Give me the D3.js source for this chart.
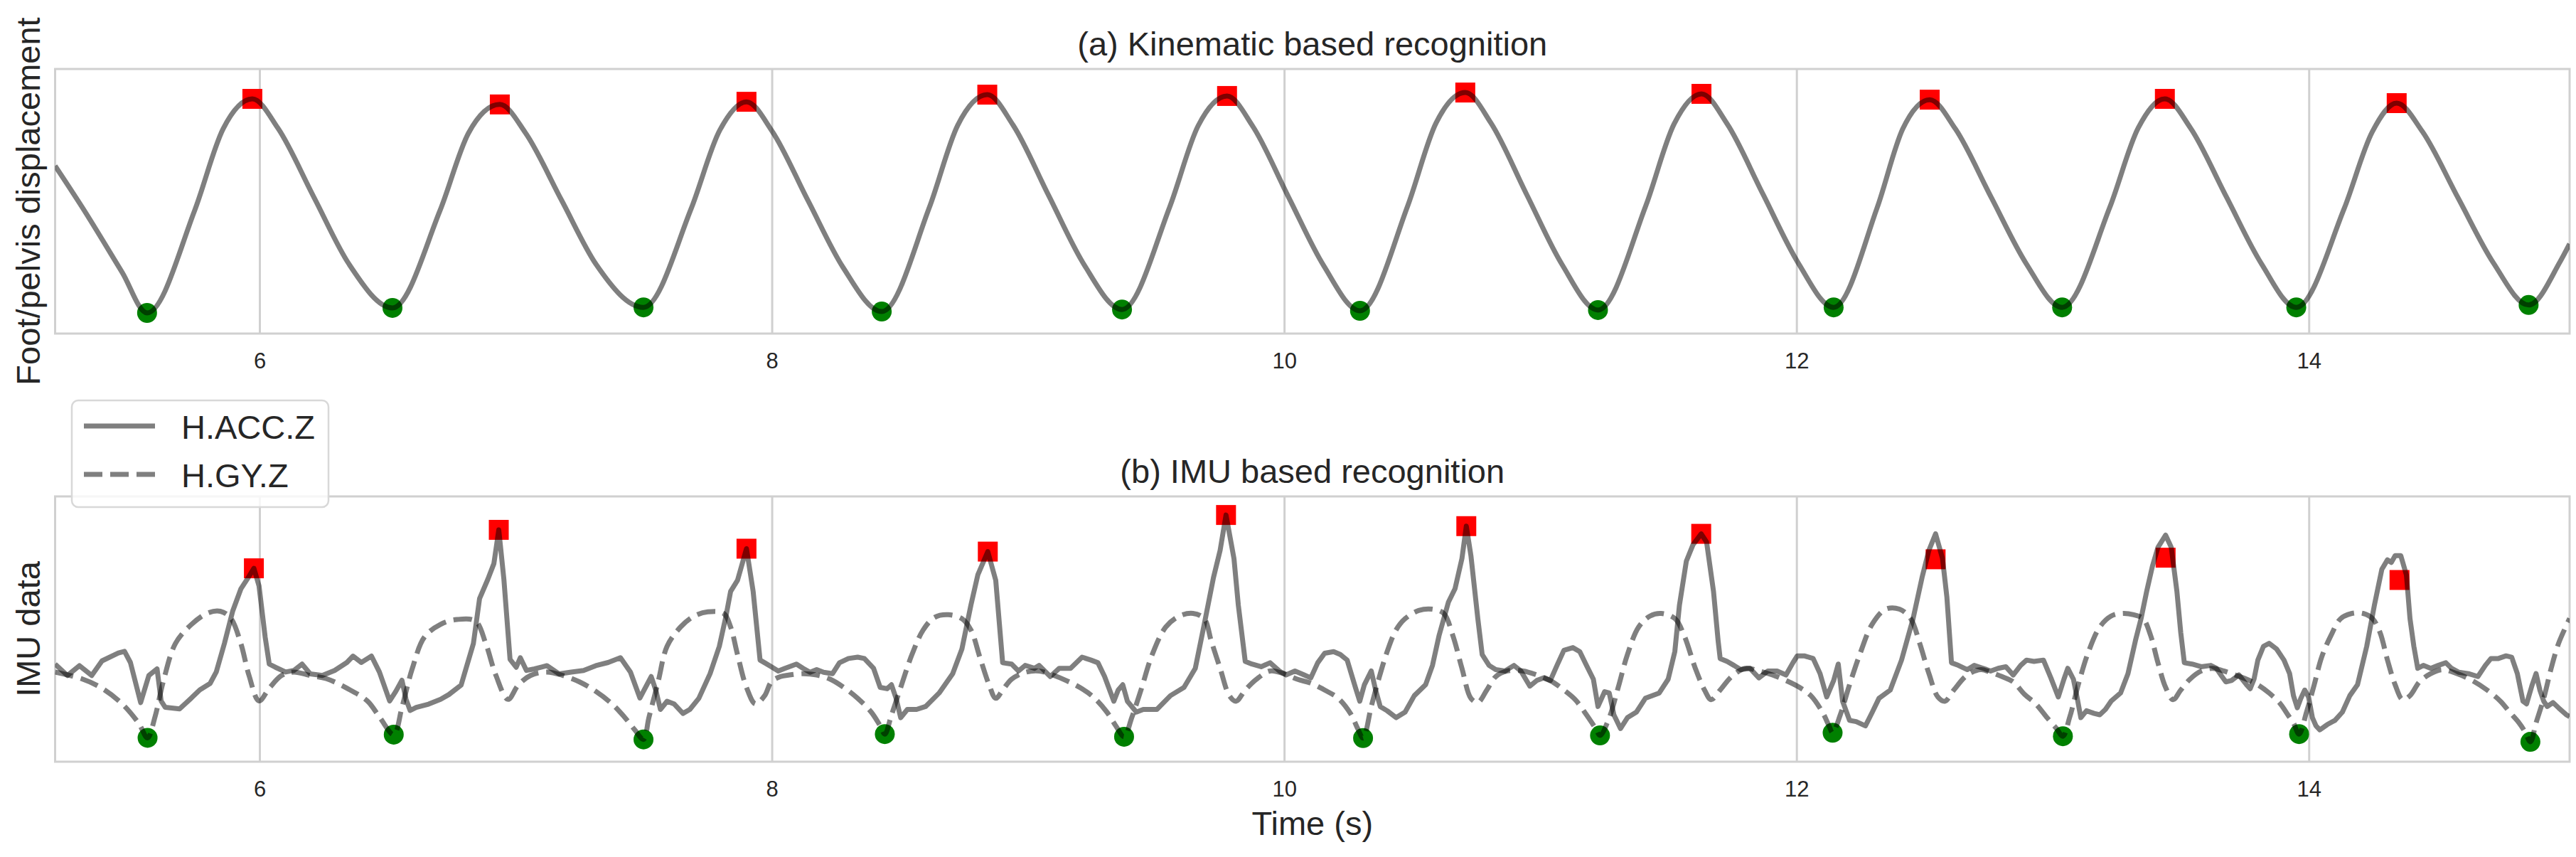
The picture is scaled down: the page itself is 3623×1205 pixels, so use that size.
<!DOCTYPE html>
<html>
<head>
<meta charset="utf-8">
<script src="https://cdn.jsdelivr.net/npm/d3@7"></script>
<style>
  body { margin: 0; background: #fff; }
  text { font-family: "Liberation Sans", Arial, sans-serif; fill: #262626; }
</style>
</head>
<body>
<div id="chart"></div>
<script>
// ---- data (time in s, values normalised 0..1 of each panel) ----
const xTicks = [6, 8, 10, 12, 14]
const titles = ["(a) Kinematic based recognition", "(b) IMU based recognition"]
const yLabels = ["Foot/pelvis displacement", "IMU data"]
const legendNames = ["H.ACC.Z", "H.GY.Z"]

const kinematic = [
  [5.202,0.634],[5.306,0.48],[5.464,0.231],[5.561,0.078],
  [5.747,0.466],[5.858,0.774],[5.972,0.887],
  [6.072,0.776],[6.212,0.516],[6.349,0.263],[6.519,0.097],
  [6.705,0.466],[6.816,0.758],[6.938,0.866],
  [7.038,0.759],[7.178,0.506],[7.315,0.260],[7.499,0.099],
  [7.685,0.472],[7.796,0.767],[7.901,0.876],
  [8.001,0.765],[8.141,0.503],[8.278,0.250],[8.429,0.083],
  [8.615,0.477],[8.726,0.788],[8.841,0.903],
  [8.941,0.789],[9.081,0.521],[9.218,0.262],[9.367,0.091],
  [9.553,0.478],[9.664,0.785],[9.777,0.898],
  [9.877,0.784],[10.017,0.516],[10.154,0.257],[10.296,0.086],
  [10.482,0.482],[10.593,0.796],[10.707,0.911],
  [10.807,0.796],[10.947,0.525],[11.084,0.262],[11.225,0.089],
  [11.411,0.481],[11.522,0.792],[11.629,0.906],
  [11.729,0.793],[11.869,0.527],[12.006,0.268],[12.145,0.099],
  [12.315,0.476],[12.415,0.774],[12.520,0.884],
  [12.620,0.774],[12.760,0.515],[12.897,0.264],[13.037,0.099],
  [13.223,0.477],[13.334,0.777],[13.438,0.887],
  [13.538,0.777],[13.678,0.517],[13.815,0.264],[13.951,0.099],
  [14.137,0.470],[14.248,0.763],[14.343,0.871],
  [14.443,0.764],[14.583,0.512],[14.720,0.268],[14.858,0.108],
  [14.980,0.270],[15.018,0.339]
]
const kinPeaks = [[5.972,0.887],[6.938,0.866],[7.901,0.876],[8.841,0.903],[9.777,0.898],
  [10.707,0.911],[11.629,0.906],[12.520,0.884],[13.438,0.887],[14.343,0.871]]
const kinFeet = [[5.561,0.078],[6.519,0.097],[7.499,0.099],[8.429,0.083],[9.367,0.091],[10.296,0.086],
  [11.225,0.089],[12.145,0.099],[13.037,0.099],[13.951,0.099],[14.858,0.108]]

const accZ = [
  [5.202,0.368],[5.250,0.325],[5.297,0.362],[5.345,0.325],[5.385,0.380],[5.449,0.410],[5.473,0.416],
  [5.496,0.374],[5.536,0.223],[5.568,0.325],[5.600,0.350],[5.616,0.229],[5.632,0.205],[5.688,0.199],
  [5.735,0.241],[5.767,0.271],[5.807,0.295],[5.831,0.338],[5.863,0.446],[5.895,0.567],[5.927,0.651],
  [5.959,0.699],[5.978,0.729],[5.998,0.663],[6.022,0.470],[6.038,0.368],[6.062,0.356],[6.102,0.338],
  [6.134,0.344],[6.166,0.368],[6.198,0.331],[6.245,0.325],[6.293,0.344],[6.341,0.374],[6.365,0.398],
  [6.397,0.374],[6.437,0.398],[6.468,0.338],[6.508,0.229],[6.532,0.265],[6.556,0.307],[6.572,0.235],
  [6.588,0.193],[6.612,0.205],[6.660,0.217],[6.707,0.235],[6.739,0.253],[6.787,0.289],[6.835,0.446],
  [6.859,0.615],[6.891,0.687],[6.915,0.747],[6.934,0.874],[6.954,0.687],[6.978,0.386],[7.002,0.356],
  [7.018,0.392],[7.042,0.344],[7.074,0.350],[7.122,0.362],[7.170,0.331],[7.217,0.338],[7.265,0.344],
  [7.313,0.362],[7.361,0.374],[7.409,0.392],[7.448,0.338],[7.485,0.240],[7.529,0.321],[7.547,0.270],
  [7.565,0.197],[7.591,0.228],[7.618,0.218],[7.653,0.182],[7.680,0.197],[7.715,0.239],[7.759,0.332],
  [7.795,0.435],[7.821,0.549],[7.839,0.642],[7.866,0.684],[7.901,0.803],[7.927,0.642],[7.954,0.383],
  [7.972,0.373],[7.998,0.358],[8.025,0.342],[8.051,0.352],[8.096,0.368],[8.122,0.352],[8.149,0.337],
  [8.175,0.347],[8.202,0.337],[8.237,0.332],[8.264,0.373],[8.299,0.389],[8.335,0.394],[8.361,0.389],
  [8.397,0.352],[8.423,0.280],[8.450,0.275],[8.467,0.290],[8.485,0.239],[8.503,0.166],[8.529,0.197],
  [8.565,0.197],[8.600,0.208],[8.653,0.259],[8.706,0.332],[8.742,0.425],[8.777,0.590],[8.804,0.704],
  [8.843,0.792],[8.874,0.684],[8.901,0.373],[8.936,0.368],[8.963,0.342],[8.989,0.363],[9.025,0.352],
  [9.043,0.363],[9.087,0.321],[9.122,0.352],[9.166,0.352],[9.211,0.394],[9.246,0.383],[9.273,0.373],
  [9.299,0.321],[9.335,0.228],[9.352,0.270],[9.370,0.290],[9.388,0.228],[9.423,0.187],[9.450,0.197],
  [9.503,0.197],[9.556,0.249],[9.609,0.280],[9.653,0.352],[9.688,0.518],[9.724,0.694],[9.750,0.797],
  [9.773,0.930],[9.804,0.766],[9.821,0.590],[9.848,0.378],[9.874,0.368],[9.910,0.358],[9.945,0.373],
  [9.981,0.342],[10.007,0.327],[10.042,0.342],[10.078,0.327],[10.104,0.316],[10.131,0.373],[10.158,0.409],
  [10.193,0.415],[10.219,0.404],[10.246,0.383],[10.278,0.280],[10.295,0.228],[10.313,0.290],[10.340,0.342],
  [10.357,0.270],[10.375,0.208],[10.402,0.192],[10.437,0.166],[10.472,0.187],[10.508,0.249],[10.552,0.290],
  [10.579,0.363],[10.605,0.477],[10.641,0.601],[10.667,0.652],[10.694,0.766],[10.711,0.888],[10.729,0.777],
  [10.756,0.539],[10.773,0.404],[10.800,0.363],[10.826,0.347],[10.862,0.342],[10.897,0.363],[10.924,0.342],
  [10.959,0.285],[10.986,0.306],[11.012,0.316],[11.039,0.306],[11.065,0.363],[11.092,0.420],[11.127,0.430],
  [11.154,0.415],[11.180,0.363],[11.207,0.311],[11.225,0.208],[11.251,0.264],[11.269,0.259],[11.287,0.177],
  [11.313,0.125],[11.340,0.166],[11.375,0.187],[11.410,0.239],[11.464,0.259],[11.499,0.311],[11.525,0.415],
  [11.543,0.590],[11.570,0.756],[11.596,0.818],[11.628,0.859],[11.649,0.828],[11.676,0.642],[11.694,0.456],
  [11.702,0.389],[11.729,0.378],[11.756,0.363],[11.782,0.347],[11.818,0.352],[11.853,0.316],[11.888,0.342],
  [11.924,0.342],[11.959,0.327],[11.986,0.373],[12.003,0.399],[12.030,0.399],[12.065,0.389],[12.092,0.332],
  [12.118,0.244],[12.145,0.306],[12.163,0.368],[12.180,0.228],[12.207,0.156],[12.233,0.151],[12.269,0.135],
  [12.296,0.187],[12.322,0.239],[12.366,0.270],[12.410,0.383],[12.455,0.539],[12.490,0.694],[12.517,0.797],
  [12.543,0.859],[12.570,0.766],[12.587,0.621],[12.605,0.373],[12.632,0.363],[12.667,0.347],[12.694,0.363],
  [12.729,0.352],[12.758,0.342],[12.787,0.352],[12.817,0.358],[12.846,0.327],[12.875,0.363],[12.898,0.383],
  [12.927,0.378],[12.964,0.383],[12.993,0.316],[13.022,0.244],[13.044,0.311],[13.059,0.352],[13.081,0.311],
  [13.096,0.239],[13.110,0.166],[13.132,0.192],[13.162,0.182],[13.184,0.177],[13.206,0.197],[13.228,0.228],
  [13.265,0.259],[13.294,0.332],[13.323,0.456],[13.345,0.539],[13.367,0.642],[13.389,0.735],[13.411,0.808],
  [13.441,0.854],[13.463,0.808],[13.485,0.642],[13.500,0.487],[13.514,0.373],[13.544,0.368],[13.580,0.358],
  [13.617,0.363],[13.639,0.352],[13.661,0.321],[13.676,0.301],[13.698,0.306],[13.727,0.327],[13.757,0.290],
  [13.771,0.275],[13.786,0.311],[13.801,0.383],[13.823,0.435],[13.845,0.446],[13.874,0.425],[13.903,0.383],
  [13.925,0.332],[13.940,0.249],[13.955,0.203],[13.969,0.239],[13.984,0.270],[13.999,0.244],[14.014,0.166],
  [14.028,0.135],[14.043,0.120],[14.072,0.140],[14.102,0.156],[14.131,0.187],[14.160,0.249],[14.190,0.290],
  [14.226,0.435],[14.256,0.590],[14.285,0.725],[14.307,0.761],[14.322,0.751],[14.337,0.777],[14.359,0.777],
  [14.381,0.704],[14.395,0.539],[14.410,0.435],[14.425,0.352],[14.447,0.363],[14.476,0.352],[14.505,0.363],
  [14.535,0.373],[14.557,0.352],[14.586,0.337],[14.623,0.332],[14.660,0.321],[14.689,0.363],[14.711,0.389],
  [14.740,0.389],[14.770,0.399],[14.792,0.394],[14.814,0.332],[14.836,0.228],[14.850,0.218],[14.872,0.290],
  [14.887,0.332],[14.902,0.270],[14.917,0.228],[14.931,0.208],[14.953,0.223],[14.975,0.203],[15.005,0.177],
  [15.018,0.170]
]

const gyZ = [
  [5.202,0.338],[5.305,0.313],[5.385,0.277],[5.465,0.217],[5.528,0.145],[5.563,0.090],[5.592,0.169],
  [5.624,0.301],[5.672,0.446],[5.735,0.518],[5.799,0.561],[5.847,0.567],[5.887,0.542],[5.927,0.446],
  [5.959,0.325],[5.998,0.229],[6.038,0.277],[6.086,0.325],[6.134,0.338],[6.198,0.325],[6.261,0.313],
  [6.341,0.277],[6.421,0.229],[6.468,0.169],[6.524,0.102],[6.556,0.205],[6.596,0.350],[6.644,0.470],
  [6.707,0.518],[6.771,0.536],[6.843,0.530],[6.883,0.446],[6.923,0.325],[6.970,0.235],[7.010,0.289],
  [7.058,0.325],[7.122,0.338],[7.185,0.325],[7.249,0.301],[7.313,0.265],[7.377,0.217],[7.424,0.169],
  [7.465,0.120],[7.499,0.084],[7.520,0.166],[7.556,0.301],[7.591,0.435],[7.644,0.508],[7.697,0.549],
  [7.750,0.565],[7.812,0.559],[7.839,0.508],[7.866,0.404],[7.901,0.280],[7.936,0.218],[7.972,0.249],
  [7.998,0.301],[8.034,0.321],[8.069,0.327],[8.122,0.332],[8.175,0.327],[8.228,0.311],[8.281,0.280],
  [8.335,0.239],[8.388,0.187],[8.423,0.135],[8.441,0.104],[8.467,0.176],[8.503,0.280],[8.547,0.404],
  [8.591,0.497],[8.635,0.544],[8.689,0.554],[8.742,0.539],[8.777,0.497],[8.812,0.394],[8.848,0.290],
  [8.874,0.239],[8.901,0.270],[8.936,0.311],[8.989,0.337],[9.043,0.342],[9.096,0.327],[9.149,0.306],
  [9.202,0.280],[9.255,0.244],[9.308,0.187],[9.343,0.135],[9.375,0.094],[9.405,0.166],[9.441,0.270],
  [9.485,0.404],[9.538,0.508],[9.591,0.549],[9.644,0.559],[9.688,0.539],[9.715,0.456],[9.750,0.352],
  [9.786,0.249],[9.812,0.228],[9.848,0.270],[9.892,0.311],[9.945,0.342],[9.998,0.332],[10.051,0.311],
  [10.104,0.296],[10.158,0.270],[10.211,0.239],[10.260,0.180],[10.287,0.125],[10.308,0.089],[10.340,0.208],
  [10.366,0.301],[10.402,0.415],[10.437,0.497],[10.472,0.539],[10.525,0.570],[10.579,0.575],[10.623,0.559],
  [10.658,0.477],[10.694,0.352],[10.729,0.239],[10.756,0.223],[10.791,0.270],[10.826,0.321],[10.871,0.342],
  [10.933,0.342],[10.986,0.327],[11.039,0.306],[11.092,0.270],[11.136,0.234],[11.180,0.177],[11.216,0.125],
  [11.233,0.099],[11.269,0.166],[11.304,0.280],[11.340,0.404],[11.384,0.508],[11.428,0.549],[11.472,0.559],
  [11.526,0.539],[11.561,0.477],[11.605,0.352],[11.641,0.270],[11.667,0.234],[11.702,0.270],[11.747,0.321],
  [11.800,0.352],[11.853,0.342],[11.906,0.327],[11.959,0.306],[12.012,0.280],[12.056,0.249],[12.101,0.187],
  [12.127,0.135],[12.141,0.109],[12.171,0.177],[12.207,0.290],[12.251,0.415],[12.295,0.518],[12.348,0.575],
  [12.402,0.575],[12.446,0.539],[12.481,0.446],[12.517,0.332],[12.552,0.244],[12.579,0.228],[12.614,0.270],
  [12.667,0.327],[12.720,0.347],[12.758,0.337],[12.802,0.321],[12.846,0.301],[12.890,0.254],[12.934,0.218],
  [12.978,0.166],[13.015,0.125],[13.040,0.096],[13.066,0.166],[13.103,0.301],[13.140,0.415],[13.184,0.508],
  [13.228,0.549],[13.272,0.559],[13.316,0.554],[13.353,0.539],[13.382,0.477],[13.411,0.373],[13.441,0.280],
  [13.470,0.234],[13.500,0.270],[13.536,0.311],[13.580,0.342],[13.624,0.352],[13.668,0.342],[13.712,0.327],
  [13.757,0.311],[13.801,0.290],[13.845,0.259],[13.889,0.218],[13.918,0.177],[13.940,0.146],[13.962,0.104],
  [13.991,0.187],[14.021,0.290],[14.050,0.394],[14.087,0.477],[14.124,0.539],[14.168,0.559],[14.212,0.559],
  [14.249,0.539],[14.278,0.487],[14.307,0.383],[14.337,0.290],[14.366,0.234],[14.395,0.249],[14.432,0.301],
  [14.476,0.332],[14.520,0.347],[14.579,0.332],[14.638,0.306],[14.696,0.270],[14.748,0.228],[14.784,0.187],
  [14.821,0.146],[14.843,0.114],[14.865,0.075],[14.887,0.146],[14.917,0.239],[14.946,0.352],[14.975,0.446],
  [15.005,0.513],[15.018,0.540]
]
const imuPeaks = [[5.978,0.729],[6.934,0.874],[7.901,0.803],[8.843,0.792],[9.773,0.930],
  [10.711,0.888],[11.628,0.859],[12.543,0.763],[13.441,0.769],[14.354,0.685]]
const imuFeet = [[5.563,0.090],[6.524,0.102],[7.499,0.084],[8.441,0.104],[9.375,0.094],[10.308,0.089],
  [11.233,0.099],[12.141,0.109],[13.040,0.096],[13.962,0.104],[14.865,0.075]]

// ---- layout ----
const width = 3623
const height = 1205
const plotLeft = 77.5
const plotRight = 3614
const frameColor = "#d0d0d0"

const svg = d3.select("#chart")
  .append("svg")
  .attr("width", width)
  .attr("height", height)
  .style("background-color", "#fff")

const x = d3.scaleLinear().domain([5.202, 15.018]).range([plotLeft, plotRight])

const panels = [
  {top: 97, bottom: 469, title: titles[0], ylabel: yLabels[0]},
  {top: 698, bottom: 1071, title: titles[1], ylabel: yLabels[1]}
]

panels.forEach((p, i) => {
  p.y = d3.scaleLinear().domain([0, 1]).range([p.bottom, p.top])
  const g = svg.append("g")

  const clipId = "clip" + i
  svg.append("clipPath").attr("id", clipId)
    .append("rect")
    .attr("x", plotLeft).attr("y", p.top)
    .attr("width", plotRight - plotLeft).attr("height", p.bottom - p.top)

  // vertical grid + tick labels
  const axis = d3.axisBottom(x)
    .tickValues(xTicks)
    .tickFormat(d3.format("d"))
    .tickSizeInner(-(p.bottom - p.top))
    .tickSizeOuter(0)
    .tickPadding(27)
  const ax = g.append("g")
    .attr("transform", `translate(0,${p.bottom})`)
    .call(axis)
  ax.select(".domain").remove()
  ax.selectAll(".tick line").attr("stroke", frameColor).attr("stroke-width", 3)
  ax.selectAll(".tick text")
    .style("font-size", "31px")
    .style("font-family", '"Liberation Sans", Arial, sans-serif')
    .attr("fill", "#262626")

  // frame
  g.append("rect")
    .attr("x", plotLeft).attr("y", p.top)
    .attr("width", plotRight - plotLeft).attr("height", p.bottom - p.top)
    .attr("fill", "none")
    .attr("stroke", frameColor)
    .attr("stroke-width", 3)

  // title
  g.append("text")
    .attr("x", (plotLeft + plotRight) / 2)
    .attr("y", p.top - 19)
    .attr("text-anchor", "middle")
    .style("font-size", "47px")
    .text(p.title)

  // y label
  g.append("text")
    .attr("transform", `translate(56,${(p.top + p.bottom) / 2}) rotate(-90)`)
    .attr("text-anchor", "middle")
    .style("font-size", "47px")
    .text(p.ylabel)

  p.g = g.append("g").attr("clip-path", `url(#${clipId})`)
})

// ---- marks ----
function drawMarkers(p, peaks, feet) {
  p.g.selectAll(null)
    .data(feet)
    .enter()
    .append("circle")
    .attr("cx", d => x(d[0]))
    .attr("cy", d => p.y(d[1]))
    .attr("r", 14)
    .attr("fill", "#008000")
  p.g.selectAll(null)
    .data(peaks)
    .enter()
    .append("rect")
    .attr("x", d => x(d[0]) - 14)
    .attr("y", d => p.y(d[1]) - 14)
    .attr("width", 28)
    .attr("height", 28)
    .attr("fill", "#ff0000")
}

const pa = panels[0]
const pb = panels[1]

drawMarkers(pa, kinPeaks, kinFeet)
drawMarkers(pb, imuPeaks, imuFeet)

const lineA = d3.line().x(d => x(d[0])).y(d => pa.y(d[1])).curve(d3.curveMonotoneX)
pa.g.append("path")
  .datum(kinematic)
  .attr("d", lineA)
  .attr("fill", "none")
  .attr("stroke", "#000")
  .attr("stroke-opacity", 0.5)
  .attr("stroke-width", 7)

const lineAcc = d3.line().x(d => x(d[0])).y(d => pb.y(d[1]))
const lineGy = d3.line().x(d => x(d[0])).y(d => pb.y(d[1])).curve(d3.curveCatmullRom.alpha(0.5))

pb.g.append("path")
  .datum(accZ)
  .attr("d", lineAcc)
  .attr("fill", "none")
  .attr("stroke", "#000")
  .attr("stroke-opacity", 0.5)
  .attr("stroke-width", 7)
  .attr("stroke-linejoin", "round")

pb.g.append("path")
  .datum(gyZ)
  .attr("d", lineGy)
  .attr("fill", "none")
  .attr("stroke", "#000")
  .attr("stroke-opacity", 0.5)
  .attr("stroke-width", 7)
  .attr("stroke-dasharray", "26,11")

// x label
svg.append("text")
  .attr("x", (plotLeft + plotRight) / 2)
  .attr("y", 1174)
  .attr("text-anchor", "middle")
  .style("font-size", "47px")
  .text("Time (s)")

// ---- legend ----
const legend = svg.append("g")
legend.append("rect")
  .attr("x", 101).attr("y", 563)
  .attr("width", 361).attr("height", 150)
  .attr("rx", 9)
  .attr("fill", "#fff")
  .attr("fill-opacity", 0.8)
  .attr("stroke", "#d8d8d8")
  .attr("stroke-width", 2.5)

legendNames.forEach((name, i) => {
  const ly = 599 + i * 68
  legend.append("line")
    .attr("x1", 118).attr("x2", 218)
    .attr("y1", ly).attr("y2", ly)
    .attr("stroke", "#000")
    .attr("stroke-opacity", 0.5)
    .attr("stroke-width", 7)
    .attr("stroke-dasharray", i === 1 ? "26,11" : null)
  legend.append("text")
    .attr("x", 255)
    .attr("y", ly + 18)
    .style("font-size", "47px")
    .text(name)
})
</script>
</body>
</html>
